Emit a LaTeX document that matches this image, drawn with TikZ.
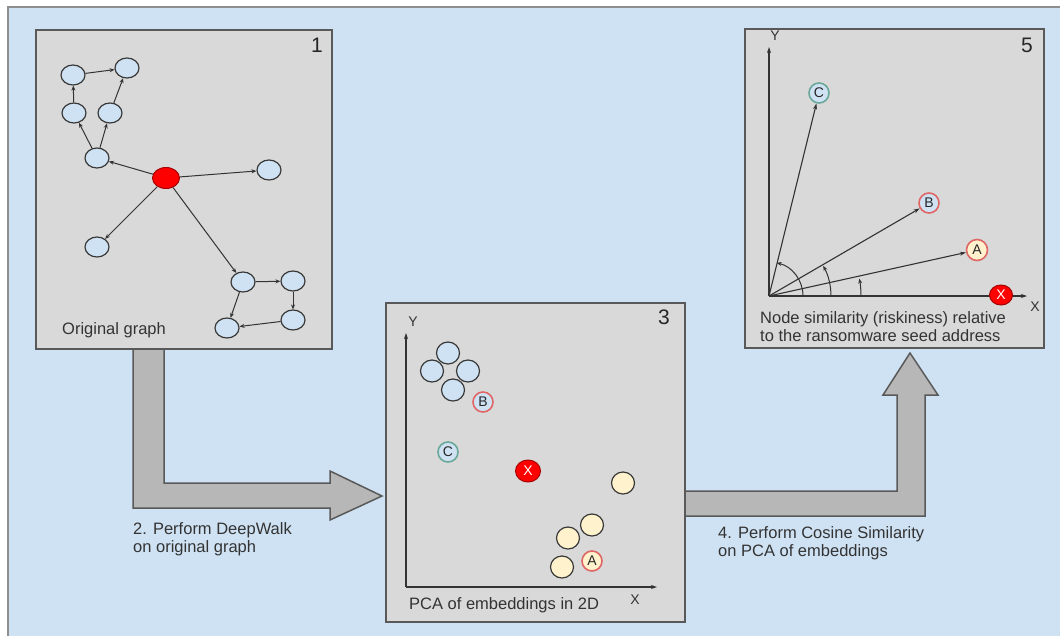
\documentclass[tikz,border=0pt]{standalone}
\usepackage{fontspec}
\setmainfont{Liberation Sans}
\usetikzlibrary{shapes.geometric,arrows.meta}

\definecolor{bgblue}{HTML}{CFE2F3}
\definecolor{panelgray}{HTML}{D9D9D9}
\definecolor{framegray}{HTML}{595959}
\definecolor{outergray}{HTML}{8E8E8E}
\definecolor{arrowgray}{HTML}{B7B7B7}
\definecolor{nodeblue}{HTML}{CFE2F3}
\definecolor{nodeyellow}{HTML}{FFF2CC}
\definecolor{ringred}{HTML}{E06666}
\definecolor{ringteal}{HTML}{6AA89A}
\definecolor{inkgray}{HTML}{333333}
\definecolor{seedred}{HTML}{FF0000}

\begin{document}
\begin{tikzpicture}[x=1pt,y=-1pt,
  panelbox/.style={draw=framegray, fill=panelgray, line width=2pt},
  fatarrow/.style={draw=framegray, fill=arrowgray, line width=1.5pt, line join=miter},
  gnode/.style={ellipse, draw=black!78, fill=nodeblue, line width=1.2pt,
    minimum width=24pt, minimum height=20pt, inner sep=0pt},
  seednode/.style={ellipse, draw=red!65!black, fill=seedred, line width=1pt,
    minimum width=27pt, minimum height=21pt, inner sep=0pt,
    text=white, font=\fontsize{14}{14}\selectfont},
  graphlink/.style={-{Stealth[length=5pt,width=4pt]}, line width=1pt, draw=black!80},
  pcadot/.style={ellipse, draw=black!78, line width=1.2pt,
    minimum width=23pt, minimum height=22pt, inner sep=0pt},
  lettered/.style={circle, line width=1.6pt, minimum size=20pt, inner sep=0pt,
    text=black!85, font=\fontsize{14}{14}\selectfont},
  axisline/.style={-{Stealth[length=6pt,width=4pt]}, line width=1.1pt, draw=black!80},
  vecline/.style={-{Stealth[length=6pt,width=4pt]}, line width=1.1pt, draw=black!80},
  anglearc/.style={-{Stealth[length=5pt,width=4pt]}, line width=1pt, draw=black!80},
  caption/.style={inner sep=0pt, align=left, text=inkgray,
    font=\fontsize{16.5}{18.5}\selectfont},
  axislabel/.style={inner sep=0pt, text=inkgray, font=\fontsize{14}{14}\selectfont},
  stepnum/.style={inner sep=0pt, text=black!85, font=\fontsize{21}{21}\selectfont}
]
\useasboundingbox (0,0) rectangle (1060,635);
\clip (0,0) rectangle (1060,635);
\fill[white] (0,0) rectangle (1060,635);

% outer frame
\draw[fill=bgblue, draw=outergray, line width=2pt] (8,7) rectangle (1080,650);

% step 2 and step 4 block arrows
\draw[fatarrow] (133,345) -- (133,508) -- (330,508) -- (330,520) -- (382,496)
  -- (330,471) -- (330,483) -- (164,483) -- (164,345) -- cycle;
\draw[fatarrow] (680,491) -- (897,491) -- (897,395) -- (883,395) -- (910,353)
  -- (938,395) -- (925,395) -- (925,516) -- (680,516) -- cycle;

\node[caption, anchor=north west] (cap2) at (133,522)
  {2. Perform DeepWalk\\on original graph};
\node[caption, anchor=north west] (cap4) at (718,526)
  {4. Perform Cosine Similarity\\on PCA of embeddings};

% panels
\draw[panelbox] (36,30) rectangle (332,349);
\draw[panelbox] (386,303) rectangle (685,622);
\draw[panelbox] (745,29) rectangle (1044,348);

\node[stepnum, anchor=north east] (num1) at (323,38) {1};
\node[stepnum, anchor=north east] (num3) at (670,310) {3};
\node[stepnum, anchor=north east] (num5) at (1033,38) {5};

% ---- panel 1: original graph
\node[gnode] (a1) at (73,75) {};
\node[gnode] (a2) at (127,68) {};
\node[gnode] (a3) at (74,113) {};
\node[gnode] (a4) at (110,113) {};
\node[gnode] (a5) at (97,158) {};
\node[seednode] (s) at (166,178) {};
\node[gnode] (a6) at (269,170) {};
\node[gnode] (a7) at (97,247) {};
\node[gnode] (a8) at (243,282) {};
\node[gnode] (a9) at (293,281) {};
\node[gnode] (a10) at (293,320) {};
\node[gnode] (a11) at (227,328) {};

\draw[graphlink] (a1) -- (a2);
\draw[graphlink] (a3) -- (a1);
\draw[graphlink] (a4) -- (a2);
\draw[graphlink] (a5) -- (a3);
\draw[graphlink] (a5) -- (a4);
\draw[graphlink] (s) -- (a5);
\draw[graphlink] (s) -- (a6);
\draw[graphlink] (s) -- (a7);
\draw[graphlink] (s) -- (a8);
\draw[graphlink] (a8) -- (a9);
\draw[graphlink] (a9) -- (a10);
\draw[graphlink] (a10) -- (a11);
\draw[graphlink] (a8) -- (a11);

\node[caption, anchor=north west] (cap1) at (62,322) {Original graph};

% ---- panel 3: PCA of embeddings
\coordinate (o3) at (406,587);
\coordinate (y3) at (406,333);
\coordinate (x3) at (657,587);
\draw[axisline] (o3) -- (y3);
\draw[axisline] (o3) -- (x3);
\node[axislabel] (ly3) at (413,322) {Y};
\node[axislabel] (lx3) at (635,600) {X};

\node[pcadot, fill=nodeblue] (b1) at (448,353) {};
\node[pcadot, fill=nodeblue] (b2) at (432,371) {};
\node[pcadot, fill=nodeblue] (b3) at (468,371) {};
\node[pcadot, fill=nodeblue] (b4) at (453,390) {};
\node[lettered, draw=ringred, fill=nodeblue] (pB) at (483,402) {B};
\node[lettered, draw=ringteal, fill=nodeblue] (pC) at (448,452) {C};
\node[seednode, minimum width=25pt, minimum height=22pt] (pX) at (528,471) {X};
\node[pcadot, fill=nodeyellow] (y1) at (623,483) {};
\node[pcadot, fill=nodeyellow] (y2) at (592,525) {};
\node[pcadot, fill=nodeyellow] (y3n) at (568,538) {};
\node[pcadot, fill=nodeyellow] (y4) at (562,567) {};
\node[lettered, draw=ringred, fill=nodeyellow] (pA) at (592,561) {A};

\node[caption, anchor=north west] (cap3) at (409,597) {PCA of embeddings in 2D};

% ---- panel 5: cosine similarity
\coordinate (o5) at (769,296);
\coordinate (y5) at (769,47);
\coordinate (x5) at (1027,296);
\draw[axisline] (o5) -- (y5);
\draw[axisline] (o5) -- (x5);
\node[axislabel] (ly5) at (775,36) {Y};
\node[axislabel] (lx5) at (1035,307) {X};

\node[lettered, draw=ringteal, fill=nodeblue] (vC) at (819,93) {C};
\node[lettered, draw=ringred, fill=nodeblue] (vB) at (929,203) {B};
\node[lettered, draw=ringred, fill=nodeyellow, minimum size=21pt] (vA) at (977,250) {A};
\node[seednode, minimum width=23pt, minimum height=20pt] (vX) at (1001,295) {X};

\draw[vecline] (o5) -- (vC);
\draw[vecline] (o5) -- (vB);
\draw[vecline] (o5) -- (vA);

\draw[anglearc] ([shift={(0:92)}]o5) arc[start angle=0, end angle=-10.9, radius=92];
\draw[anglearc] ([shift={(0:62)}]o5) arc[start angle=0, end angle=-29.1, radius=62];
\draw[anglearc] ([shift={(0:34)}]o5) arc[start angle=0, end angle=-77, radius=34];

\node[caption, anchor=north west] (cap5) at (760,311)
  {Node similarity (riskiness) relative\\to the ransomware seed address};
\end{tikzpicture}
\end{document}
